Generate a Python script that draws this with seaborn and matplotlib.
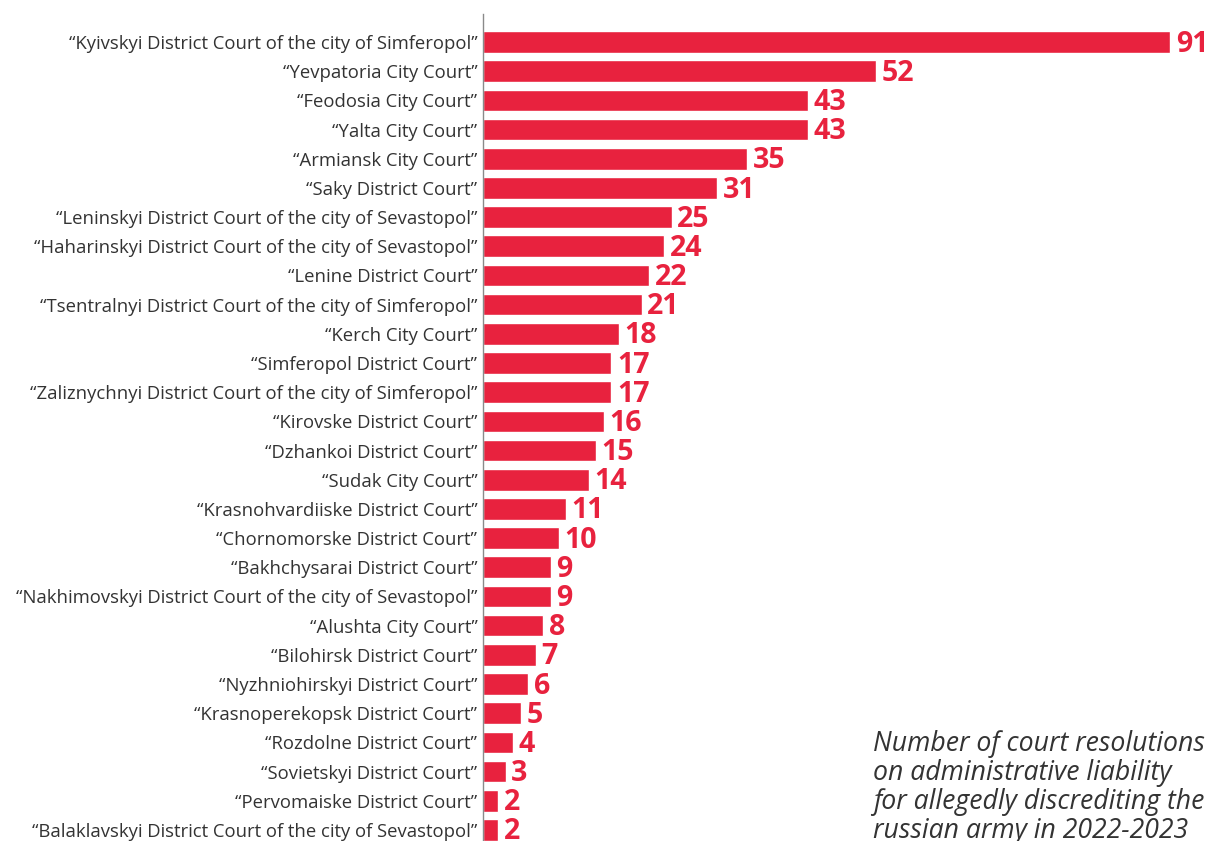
import matplotlib
matplotlib.use("Agg")
import matplotlib.pyplot as plt
import seaborn as sns
import pandas as pd

courts = [
    "“Kyivskyi District Court of the city of Simferopol”",
    "“Yevpatoria City Court”",
    "“Feodosia City Court”",
    "“Yalta City Court”",
    "“Armiansk City Court”",
    "“Saky District Court”",
    "“Leninskyi District Court of the city of Sevastopol”",
    "“Haharinskyi District Court of the city of Sevastopol”",
    "“Lenine District Court”",
    "“Tsentralnyi District Court of the city of Simferopol”",
    "“Kerch City Court”",
    "“Simferopol District Court”",
    "“Zaliznychnyi District Court of the city of Simferopol”",
    "“Kirovske District Court”",
    "“Dzhankoi District Court”",
    "“Sudak City Court”",
    "“Krasnohvardiiske District Court”",
    "“Chornomorske District Court”",
    "“Bakhchysarai District Court”",
    "“Nakhimovskyi District Court of the city of Sevastopol”",
    "“Alushta City Court”",
    "“Bilohirsk District Court”",
    "“Nyzhniohirskyi District Court”",
    "“Krasnoperekopsk District Court”",
    "“Rozdolne District Court”",
    "“Sovietskyi District Court”",
    "“Pervomaiske District Court”",
    "“Balaklavskyi District Court of the city of Sevastopol”",
]
counts = [91, 52, 43, 43, 35, 31, 25, 24, 22, 21, 18, 17, 17, 16, 15, 14,
          11, 10, 9, 9, 8, 7, 6, 5, 4, 3, 2, 2]
note = ("Number of court resolutions\non administrative liability\n"
        "for allegedly discrediting the\nrussian army in 2022-2023")

RED = "#E8223E"
sns.set_style("white")
plt.rcParams['font.family'] = ['Open Sans', 'DejaVu Sans']

df = pd.DataFrame({"court": courts, "count": counts})

fig = plt.figure(figsize=(12.07, 8.41), dpi=100)
ax = fig.add_axes([483 / 1207, 0.0, 712 / 1207, 827 / 841])
sns.barplot(data=df, y="court", x="count", orient="h", color=RED,
            saturation=1, width=0.74, ax=ax, order=courts)
ax.set_xlim(0, 94.3)
ax.set_ylim(27.38, -0.96)
ax.set_xlabel("")
ax.set_ylabel("")
ax.set_xticks([])
for s in ["top", "right", "bottom"]:
    ax.spines[s].set_visible(False)
ax.spines["left"].set_color("#8a8a8a")
ax.spines["left"].set_linewidth(1.0)
ax.tick_params(axis="y", length=0, pad=4, labelsize=13.3, labelcolor="#333333")

for i, v in enumerate(counts):
    ax.annotate(str(v), xy=(v, i), xytext=(4, -1.5), textcoords="offset points",
                ha="left", va="center", fontsize=20.5, fontweight="bold",
                color=RED)

fig.text(873 / 1207, 1 - 730 / 841, note, ha="left", va="top",
         fontsize=19.2, style="italic", color="#333333", linespacing=1.05)

fig.savefig("out.png", dpi=100)
